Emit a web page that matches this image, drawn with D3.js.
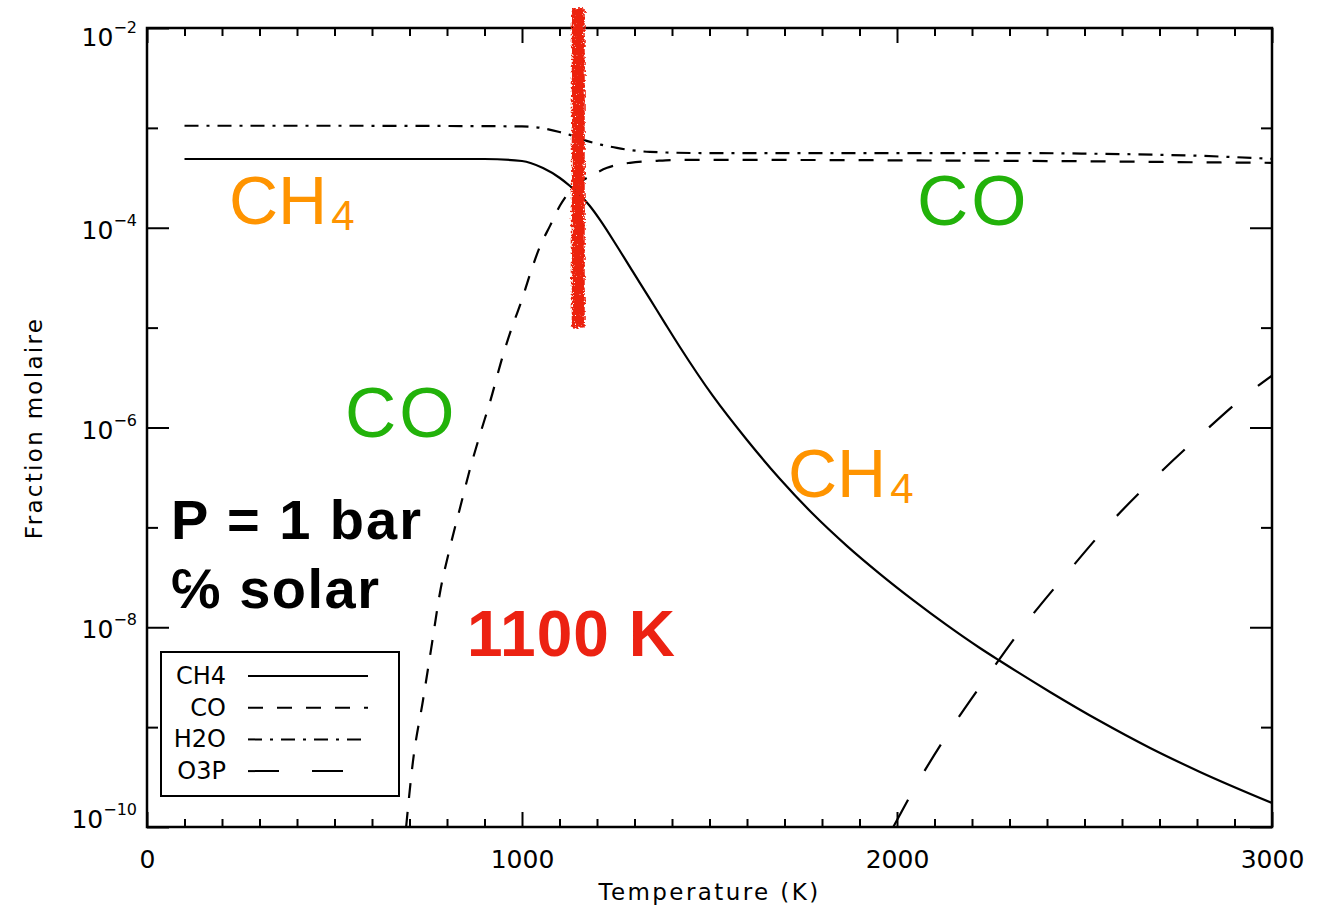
<!DOCTYPE html>
<html>
<head>
<meta charset="utf-8">
<script src="https://cdn.jsdelivr.net/npm/d3@7/dist/d3.min.js"></script>
<style>
  html, body { margin: 0; padding: 0; background: #ffffff; }
  svg { display: block; }
</style>
</head>
<body>
<svg id="chart" width="1326" height="908"></svg>
<script>
// Equilibrium mole fractions at P = 1 bar, solar composition.
// Temperatures in K, mole fractions dimensionless.
const ch4Temp = [100, 500, 900, 1000, 1056, 1101, 1128, 1155, 1181, 1208, 1253, 1296, 1341, 1381, 1421, 1509, 1600, 1688, 1776, 1867, 1955, 2043, 2133, 2221, 2275, 2408, 2541, 2675, 2808, 3000];
const ch4Frac = [4.88e-4, 4.88e-4, 4.88e-4, 4.66e-4, 3.96e-4, 3.15e-4, 2.62e-4, 2.13e-4, 1.65e-4, 1.20e-4, 6.57e-5, 3.61e-5, 1.94e-5, 1.11e-5, 6.40e-6, 2.07e-6, 7.50e-7, 3.05e-7, 1.36e-7, 6.50e-8, 3.41e-8, 1.87e-8, 1.05e-8, 6.20e-9, 4.59e-9, 2.25e-9, 1.15e-9, 6.18e-10, 3.56e-10, 1.74e-10];

const coTemp = [691, 709, 736, 760, 781, 808, 835, 861, 888, 915, 950, 975, 1000, 1021, 1048, 1075, 1101, 1136, 1189, 1227, 1288, 1360, 1429, 2275, 2541, 2808, 3000];
const coFrac = [1.0e-10, 4.47e-10, 1.86e-9, 6.9e-9, 2.19e-8, 6.3e-8, 1.58e-7, 3.8e-7, 8.5e-7, 1.82e-6, 5.4e-6, 1.05e-5, 1.91e-5, 3.39e-5, 6.5e-5, 1.05e-4, 1.66e-4, 2.51e-4, 3.39e-4, 3.98e-4, 4.47e-4, 4.68e-4, 4.79e-4, 4.68e-4, 4.62e-4, 4.52e-4, 4.47e-4];

const h2oTemp = [100, 500, 1000, 1050, 1100, 1128, 1163, 1210, 1253, 1341, 1475, 2275, 2541, 2808, 3000];
const h2oFrac = [1.05e-3, 1.05e-3, 1.035e-3, 1.0e-3, 9.1e-4, 8.5e-4, 7.6e-4, 6.8e-4, 6.3e-4, 5.75e-4, 5.6e-4, 5.6e-4, 5.5e-4, 5.25e-4, 4.9e-4];

const o3pTemp = [1990, 2056, 2147, 2243, 2344, 2453, 2563, 2683, 2808, 2936, 3000];
const o3pFrac = [1.0e-10, 2.82e-10, 1.0e-9, 3.31e-9, 1.10e-8, 3.47e-8, 1.05e-7, 3.02e-7, 8.3e-7, 2.19e-6, 3.31e-6];

// Axis ticks
const xMajorTicks = [0, 1000, 2000, 3000];
const xMinorTicks = [100, 200, 300, 400, 500, 600, 700, 800, 900, 1100, 1200, 1300, 1400, 1500, 1600, 1700, 1800, 1900, 2100, 2200, 2300, 2400, 2500, 2600, 2700, 2800, 2900];
const yMajorExponents = [-2, -4, -6, -8, -10];
const yMinorExponents = [-3, -5, -7, -9];

// Hand-drawn marker for the quench temperature
const markerTemp = 1150;
const markerFracRange = [1.0e-5, 1.58e-2];

// Legend rows
const legendNames = ["CH4", "CO", "H2O", "O3P"];

const svg = d3.select("#chart");
const plot = { left: 147, right: 1272, top: 28, bottom: 827 };

const x = d3.scaleLinear().domain([0, 3000]).range([plot.left, plot.right]);
const y = d3.scaleLog().domain([1e-10, 1e-2]).range([plot.bottom, plot.top]);

const dashes = {
  solid: null,
  dashed: "15,14",
  dashdot: "14,8,3,8",
  longdash: "31,33"
};

const defs = svg.append("defs");
defs.append("clipPath").attr("id", "plotClip")
  .append("rect")
  .attr("x", plot.left).attr("y", plot.top)
  .attr("width", plot.right - plot.left)
  .attr("height", plot.bottom - plot.top);

// rough, chalky texture for the marker stroke
const rough = defs.append("filter").attr("id", "rough")
  .attr("filterUnits", "userSpaceOnUse")
  .attr("x", 520).attr("y", 0).attr("width", 120).attr("height", 360);
rough.append("feTurbulence").attr("type", "fractalNoise")
  .attr("baseFrequency", "0.4").attr("numOctaves", 2).attr("seed", 3).attr("result", "n1");
rough.append("feDisplacementMap").attr("in", "SourceGraphic").attr("in2", "n1")
  .attr("scale", 6).attr("xChannelSelector", "R").attr("yChannelSelector", "G").attr("result", "shape");
rough.append("feTurbulence").attr("type", "fractalNoise")
  .attr("baseFrequency", "0.9").attr("numOctaves", 1).attr("seed", 8).attr("result", "n2");
rough.append("feColorMatrix").attr("in", "n2").attr("type", "matrix")
  .attr("values", "0 0 0 0 0  0 0 0 0 0  0 0 0 0 0  14 0 0 0 -3.2").attr("result", "speck");
rough.append("feComposite").attr("in", "shape").attr("in2", "speck").attr("operator", "in");

const font = "'DejaVu Sans', sans-serif";
const hfont = "'Liberation Sans', Arial, Helvetica, sans-serif";

// ---- curves ----
const line = d3.line()
  .x(d => x(d[0]))
  .y(d => y(d[1]))
  .curve(d3.curveMonotoneX);

const series = [
  { t: ch4Temp, v: ch4Frac, dash: dashes.solid },
  { t: coTemp, v: coFrac, dash: dashes.dashed },
  { t: h2oTemp, v: h2oFrac, dash: dashes.dashdot },
  { t: o3pTemp, v: o3pFrac, dash: dashes.longdash }
];

const curves = svg.append("g").attr("clip-path", "url(#plotClip)");
series.forEach(s => {
  curves.append("path")
    .datum(d3.zip(s.t, s.v))
    .attr("d", line)
    .attr("fill", "none")
    .attr("stroke", "#000")
    .attr("stroke-width", 2.2)
    .attr("stroke-dasharray", s.dash);
});

// ---- axes (ticks point inward on all four sides) ----
function styleAxis(g) {
  g.select(".domain").remove();
  g.selectAll(".tick line").attr("stroke", "#000").attr("stroke-width", 2);
}

svg.append("g").attr("transform", `translate(0,${plot.bottom})`)
  .call(d3.axisBottom(x).tickValues(xMajorTicks).tickSize(-15).tickPadding(23).tickFormat(d3.format("d")))
  .call(styleAxis)
  .call(g => g.selectAll("text").attr("font-family", font).attr("font-size", 25).attr("fill", "#000"));
svg.append("g").attr("transform", `translate(0,${plot.bottom})`)
  .call(d3.axisBottom(x).tickValues(xMinorTicks).tickSize(-8).tickFormat(""))
  .call(styleAxis);
svg.append("g").attr("transform", `translate(0,${plot.top})`)
  .call(d3.axisTop(x).tickValues(xMajorTicks).tickSize(-15).tickFormat(""))
  .call(styleAxis);
svg.append("g").attr("transform", `translate(0,${plot.top})`)
  .call(d3.axisTop(x).tickValues(xMinorTicks).tickSize(-8).tickFormat(""))
  .call(styleAxis);

const yMajor = yMajorExponents.map(e => Math.pow(10, e));
const yMinor = yMinorExponents.map(e => Math.pow(10, e));
svg.append("g").attr("transform", `translate(${plot.left},0)`)
  .call(d3.axisLeft(y).tickValues(yMajor).tickSize(-22).tickFormat(""))
  .call(styleAxis);
svg.append("g").attr("transform", `translate(${plot.left},0)`)
  .call(d3.axisLeft(y).tickValues(yMinor).tickSize(-11).tickFormat(""))
  .call(styleAxis);
svg.append("g").attr("transform", `translate(${plot.right},0)`)
  .call(d3.axisRight(y).tickValues(yMajor).tickSize(-22).tickFormat(""))
  .call(styleAxis);
svg.append("g").attr("transform", `translate(${plot.right},0)`)
  .call(d3.axisRight(y).tickValues(yMinor).tickSize(-11).tickFormat(""))
  .call(styleAxis);

// y tick labels as powers of ten; end labels are nudged inside the frame
const yLabels = svg.append("g").attr("font-family", font).attr("fill", "#000");
yMajorExponents.forEach(e => {
  const ty = y(Math.pow(10, e));
  let base = ty + 11;
  if (e === yMajorExponents[0]) base = ty + 18;
  if (e === yMajorExponents[yMajorExponents.length - 1]) base = ty + 1;
  const t = yLabels.append("text")
    .attr("x", 137).attr("y", base)
    .attr("text-anchor", "end");
  t.append("tspan").attr("font-size", 25).text("10");
  t.append("tspan").attr("font-size", 16).attr("dy", -13).text("\u2212" + Math.abs(e));
});

// frame
svg.append("rect")
  .attr("x", plot.left).attr("y", plot.top)
  .attr("width", plot.right - plot.left).attr("height", plot.bottom - plot.top)
  .attr("fill", "none").attr("stroke", "#000").attr("stroke-width", 2.5);

// axis titles
svg.append("text")
  .attr("x", (plot.left + plot.right) / 2).attr("y", 900)
  .attr("text-anchor", "middle")
  .attr("font-family", font).attr("font-size", 23).attr("letter-spacing", 2.4)
  .text("Temperature (K)");
svg.append("text")
  .attr("transform", "translate(42,428) rotate(-90)")
  .attr("text-anchor", "middle")
  .attr("font-family", font).attr("font-size", 23).attr("letter-spacing", 2.3)
  .text("Fraction molaire");

// ---- quench marker ----
const mx = x(markerTemp);
const my0 = y(markerFracRange[1]), my1 = y(markerFracRange[0]);
svg.append("rect")
  .attr("x", mx - 6.5).attr("y", my0)
  .attr("width", 13).attr("height", my1 - my0)
  .attr("fill", "#ec2110")
  .attr("filter", "url(#rough)");

// ---- annotations ----
const orange = "#ff9400";
const green = "#22b20a";
const red = "#ec2212";

function chem(xp, yp, main, sub, color) {
  const t = svg.append("text")
    .attr("x", xp).attr("y", yp)
    .attr("font-family", hfont).attr("font-size", 68).attr("fill", color);
  const m = t.append("tspan").text(main);
  if (main === "CO") m.attr("font-size", 71).attr("letter-spacing", 3);
  if (sub) t.append("tspan").attr("font-size", 42).attr("dx", 4).attr("dy", 6).text(sub);
}
chem(229, 224, "CH", "4", orange);
chem(917, 225, "CO", null, green);
chem(345, 437, "CO", null, green);
chem(788, 497, "CH", "4", orange);

svg.append("text")
  .attr("x", 171).attr("y", 539)
  .attr("font-family", hfont).attr("font-weight", "bold").attr("font-size", 56)
  .attr("letter-spacing", 2)
  .text("P = 1 bar");
svg.append("text")
  .attr("x", 171).attr("y", 608)
  .attr("font-family", hfont).attr("font-weight", "bold").attr("font-size", 56)
  .attr("letter-spacing", 1.5)
  .text("\u2105 solar");
svg.append("text")
  .attr("x", 467).attr("y", 656)
  .attr("font-family", hfont).attr("font-weight", "bold").attr("font-size", 64)
  .attr("letter-spacing", 1)
  .attr("fill", red)
  .text("1100 K");

// ---- legend ----
const legend = svg.append("g");
legend.append("rect")
  .attr("x", 161).attr("y", 652).attr("width", 238).attr("height", 144)
  .attr("fill", "#fff").attr("stroke", "#000").attr("stroke-width", 2);
const legendDash = [dashes.solid, dashes.dashed, dashes.dashdot, dashes.longdash];
legendNames.forEach((name, i) => {
  const ly = 676 + i * 31.7;
  legend.append("text")
    .attr("x", 226).attr("y", ly + 8)
    .attr("text-anchor", "end")
    .attr("font-family", font).attr("font-size", 24)
    .text(name);
  legend.append("line")
    .attr("x1", 248).attr("x2", 368)
    .attr("y1", ly).attr("y2", ly)
    .attr("stroke", "#000").attr("stroke-width", 2)
    .attr("stroke-dasharray", legendDash[i]);
});
</script>
</body>
</html>
